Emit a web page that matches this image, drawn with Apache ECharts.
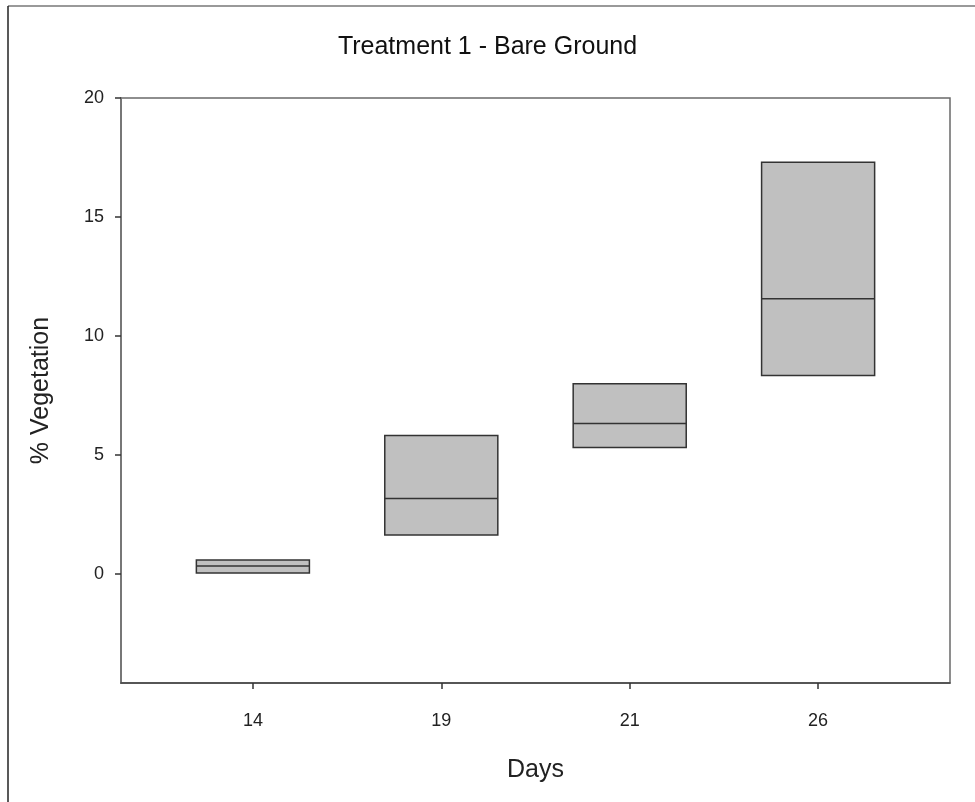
<!DOCTYPE html>
<html>
<head>
<meta charset="utf-8">
<title>Treatment 1 - Bare Ground</title>
<script src="https://cdn.jsdelivr.net/npm/echarts@6/dist/echarts.min.js"></script>
<style>
  html, body { margin: 0; padding: 0; background: #fff; }
  #chart { width: 975px; height: 802px; }
</style>
</head>
<body>
<div id="chart"></div>
<script>
// Sampling days shown on the x axis
const days = ['14', '19', '21', '26'];
// Box bounds and medians (% vegetation)
const lowerQuartile = [0.05, 1.65, 5.32, 8.34];
const median = [0.34, 3.18, 6.33, 11.57];
const upperQuartile = [0.60, 5.83, 8.00, 17.30];
// Y tick labels
const yTicks = [0, 5, 10, 15, 20];

const positions = days.map((d, i) => i + 1);
const boxData = days.map((d, i) => [positions[i], lowerQuartile[i], median[i], upperQuartile[i]]);

const chart = echarts.init(document.getElementById('chart'), null, { renderer: 'canvas' });

const fontFamily = 'Liberation Sans, Arial, sans-serif';
const textColor = '#222';

chart.setOption({
  animation: false,
  backgroundColor: '#fff',
  title: {
    text: 'Treatment 1 - Bare Ground',
    left: 'center',
    top: 30,
    textStyle: { fontFamily: fontFamily, fontSize: 25, fontWeight: 'normal', color: '#111' }
  },
  graphic: [
    { type: 'line', shape: { x1: 8, y1: 6, x2: 975, y2: 6 }, style: { stroke: '#777', lineWidth: 1.5 } },
    { type: 'line', shape: { x1: 8, y1: 6, x2: 8, y2: 802 }, style: { stroke: '#222', lineWidth: 1.5 } }
  ],
  grid: { left: 121, right: 25, top: 98, bottom: 119, show: true, borderColor: '#6a6a6a', borderWidth: 1.5, backgroundColor: '#fff' },
  xAxis: {
    type: 'value',
    min: 0.3,
    max: 4.7,
    name: 'Days',
    nameLocation: 'middle',
    nameGap: 75,
    nameTextStyle: { fontSize: 25, fontFamily: fontFamily, color: textColor },
    splitLine: { show: false },
    axisLine: { show: true, onZero: false, lineStyle: { color: '#444', width: 1.5 } },
    axisTick: { show: true, length: 6, customValues: positions, lineStyle: { color: '#333', width: 1.5 } },
    axisLabel: {
      customValues: positions,
      margin: 29,
      fontSize: 18,
      fontFamily: fontFamily,
      color: textColor,
      formatter: v => days[Math.round(v) - 1]
    }
  },
  yAxis: {
    type: 'value',
    min: -4.57,
    max: 20,
    name: '% Vegetation',
    nameLocation: 'middle',
    nameGap: 67,
    nameRotate: 90,
    nameTextStyle: { fontSize: 25, fontFamily: fontFamily, color: textColor },
    splitLine: { show: false },
    axisLine: { show: true, onZero: false, lineStyle: { color: '#777', width: 2 } },
    axisTick: { show: true, length: 6, customValues: yTicks, lineStyle: { color: '#333', width: 1.5 } },
    axisLabel: {
      customValues: yTicks,
      margin: 17,
      fontSize: 18,
      fontFamily: fontFamily,
      color: textColor
    }
  },
  series: [{
    type: 'custom',
    data: boxData,
    encode: { x: 0, y: [1, 2, 3] },
    renderItem: function (params, api) {
      const x = api.value(0);
      const halfWidth = 0.3;
      const lo = api.coord([x - halfWidth, api.value(1)]);
      const hi = api.coord([x + halfWidth, api.value(3)]);
      const mid = api.coord([x, api.value(2)]);
      return {
        type: 'group',
        children: [
          {
            type: 'rect',
            shape: { x: lo[0], y: hi[1], width: hi[0] - lo[0], height: lo[1] - hi[1] },
            style: { fill: '#c0c0c0', stroke: '#333', lineWidth: 1.5 }
          },
          {
            type: 'line',
            shape: { x1: lo[0], y1: mid[1], x2: hi[0], y2: mid[1] },
            style: { stroke: '#333', lineWidth: 1.5 }
          }
        ]
      };
    }
  }]
});
</script>
</body>
</html>
